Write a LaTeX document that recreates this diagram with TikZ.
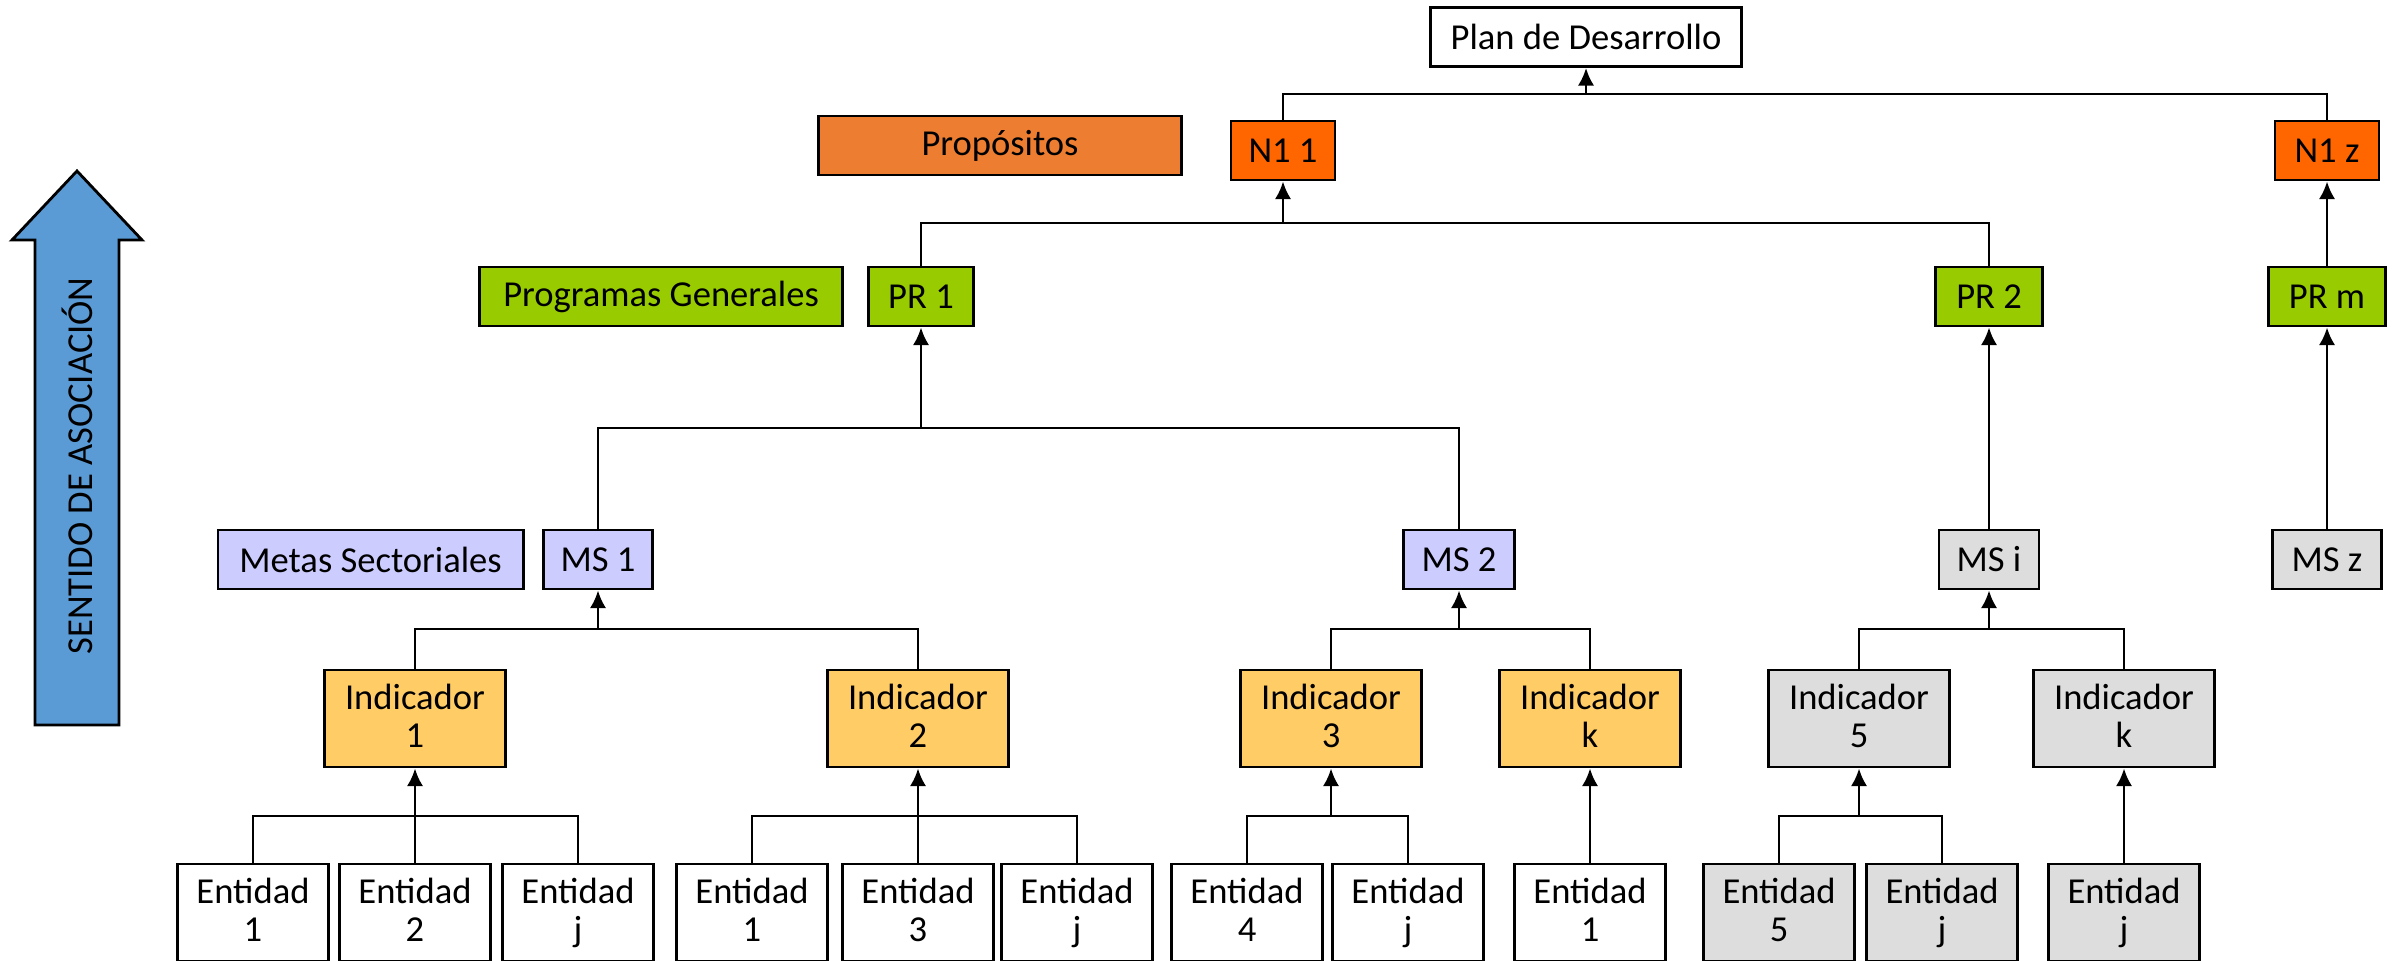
\documentclass[tikz,border=0pt]{standalone}
\usepackage{fontspec}
\setmainfont{Carlito}
\usetikzlibrary{arrows.meta, positioning}

\definecolor{proporange}{HTML}{ED7D31}
\definecolor{nivelorange}{HTML}{FF6600}
\definecolor{progreen}{HTML}{99CC00}
\definecolor{metalila}{HTML}{CCCCFF}
\definecolor{indyellow}{HTML}{FFCC66}
\definecolor{restgray}{HTML}{DDDDDD}
\definecolor{sentidoblue}{HTML}{5B9BD5}

\begin{document}
\begin{tikzpicture}[x=0.01cm, y=-0.01cm,
  main/.style = {draw, line width=0.8pt, inner sep=0pt, align=center,
    font=\fontsize{10.4}{10.8}\selectfont},
  small/.style = {main, minimum height=0.59cm},
  tall/.style = {main, minimum height=0.97cm, execute at end node=\vphantom{j}},
  entidad/.style = {tall, minimum width=1.51cm},
  indicador/.style = {tall, minimum width=1.81cm},
  link/.style = {line width=0.8pt},
  arr/.style = {-{Latex[length=5pt,width=4.6pt]}, line width=0.8pt}]
\useasboundingbox (0,0) rectangle (2407,961);

% sentido de asociacion
\filldraw[fill=sentidoblue, line width=0.8pt] (35,725) -- (35,240) -- (12,240) -- (77,171) -- (142,240) -- (119,240) -- (119,725) -- cycle;
\node[rotate=90, font=\fontsize{10.4}{10.8}\selectfont] (sentido) at (77,466) {SENTIDO DE ASOCIACIÓN};

% top
\node[small, fill=white, minimum width=3.11cm] (plan) at (1586,37) {Plan de Desarrollo};
\node[small, fill=proporange, minimum width=3.63cm] (propositos) at (1000,145.5) {Propósitos};
\node[small, fill=nivelorange, minimum width=1.04cm] (n11) at (1283,150.5) {N1 1};
\node[small, fill=nivelorange, minimum width=1.04cm] (n1z) at (2327,150.5) {N1 z};

% programas
\node[small, fill=progreen, minimum width=1.05cm] (pr1) at (921,296.5) {PR 1};
\node[small, fill=progreen, minimum width=1.07cm] (pr2) at (1989,296.5) {PR 2};
\node[small, fill=progreen, minimum width=1.17cm] (prm) at (2327,296.5) {PR m};
\node[small, fill=progreen, minimum width=3.63cm] (programas) [left=0.23cm of pr1] {Programas Generales};

% metas
\node[small, fill=metalila, minimum width=1.09cm] (ms1) at (598,559.5) {MS 1};
\node[small, fill=metalila, minimum width=1.11cm] (ms2) at (1459,559.5) {MS 2};
\node[small, fill=restgray, minimum width=1.00cm] (msi) at (1989,559.5) {MS i};
\node[small, fill=restgray, minimum width=1.09cm] (msz) at (2327,559.5) {MS z};
\node[small, fill=metalila, minimum width=3.05cm] (metas) [left=0.175cm of ms1] {Metas Sectoriales};

% indicadores
\node[indicador, fill=indyellow] (ind1) at (415,718.5) {Indicador\\1};
\node[indicador, fill=indyellow] (ind2) at (918,718.5) {Indicador\\2};
\node[indicador, fill=indyellow] (ind3) at (1331,718.5) {Indicador\\3};
\node[indicador, fill=indyellow] (indk) at (1590,718.5) {Indicador\\k};
\node[indicador, fill=restgray] (ind5) at (1859,718.5) {Indicador\\5};
\node[indicador, fill=restgray] (indk2) at (2124,718.5) {Indicador\\k};

% entidades
\node[entidad] (e1) at (253,912.5) {Entidad\\1};
\node[entidad] (e2) at (415,912.5) {Entidad\\2};
\node[entidad] (e3) at (578,912.5) {Entidad\\j};
\node[entidad] (e4) at (752,912.5) {Entidad\\1};
\node[entidad] (e5) at (918,912.5) {Entidad\\3};
\node[entidad] (e6) at (1077,912.5) {Entidad\\j};
\node[entidad] (e7) at (1247,912.5) {Entidad\\4};
\node[entidad] (e8) at (1408,912.5) {Entidad\\j};
\node[entidad] (e9) at (1590,912.5) {Entidad\\1};
\node[entidad, fill=restgray] (e10) at (1779,912.5) {Entidad\\5};
\node[entidad, fill=restgray] (e11) at (1942,912.5) {Entidad\\j};
\node[entidad, fill=restgray] (e12) at (2124,912.5) {Entidad\\j};

% buses
\coordinate (b0) at (1586,94);
\coordinate (b1) at (1283,223);
\coordinate (b2) at (921,428);
\coordinate (b3) at (598,629);
\coordinate (b4) at (1459,629);
\coordinate (b5) at (1989,629);
\coordinate (b6) at (415,816);
\coordinate (b7) at (918,816);
\coordinate (b8) at (1331,816);
\coordinate (b9) at (1859,816);

\draw[link] (n11.north) |- (b0) -| (n1z.north);
\draw[arr] (b0) -- (plan.south);
\draw[link] (pr1.north) |- (b1) -| (pr2.north);
\draw[arr] (b1) -- (n11.south);
\draw[arr] (prm.north) -- (n1z.south);
\draw[link] (ms1.north) |- (b2) -| (ms2.north);
\draw[arr] (b2) -- (pr1.south);
\draw[arr] (msi.north) -- (pr2.south);
\draw[arr] (msz.north) -- (prm.south);
\draw[link] (ind1.north) |- (b3) -| (ind2.north);
\draw[arr] (b3) -- (ms1.south);
\draw[link] (ind3.north) |- (b4) -| (indk.north);
\draw[arr] (b4) -- (ms2.south);
\draw[link] (ind5.north) |- (b5) -| (indk2.north);
\draw[arr] (b5) -- (msi.south);
\draw[link] (e1.north) |- (b6) -| (e3.north);
\draw[link] (e2.north) -- (b6);
\draw[arr] (b6) -- (ind1.south);
\draw[link] (e4.north) |- (b7) -| (e6.north);
\draw[link] (e5.north) -- (b7);
\draw[arr] (b7) -- (ind2.south);
\draw[link] (e7.north) |- (b8) -| (e8.north);
\draw[arr] (b8) -- (ind3.south);
\draw[arr] (e9.north) -- (indk.south);
\draw[link] (e10.north) |- (b9) -| (e11.north);
\draw[arr] (b9) -- (ind5.south);
\draw[arr] (e12.north) -- (indk2.south);
\end{tikzpicture}
\end{document}
